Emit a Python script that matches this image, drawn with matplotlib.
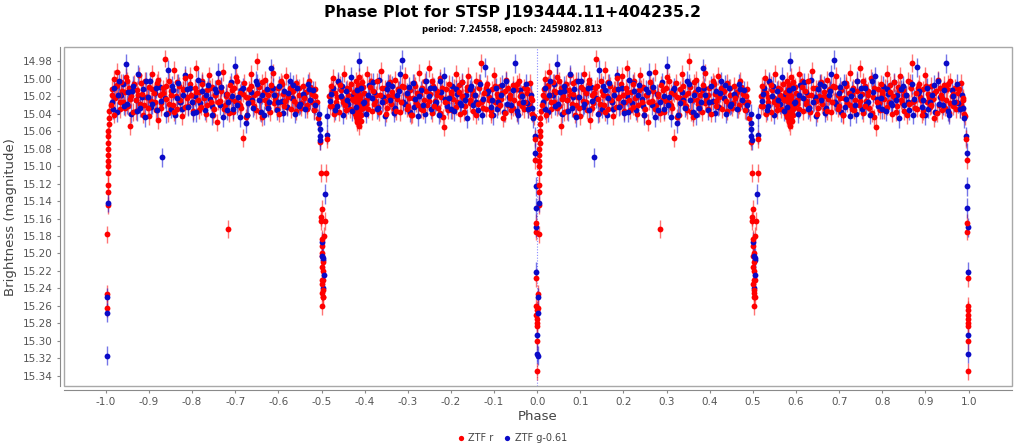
import matplotlib
matplotlib.use('Agg')
import matplotlib.pyplot as plt
from matplotlib.lines import Line2D
from matplotlib.patches import Rectangle
from matplotlib.ticker import MultipleLocator, FormatStrFormatter
import numpy as np

plt.rcParams['font.family'] = 'DejaVu Sans'
plt.rcParams['axes.unicode_minus'] = False

# ZTF r : fase (0..1) e magnitude
r_phase = [
    # egresso do eclipse primário
    0.002, 0.002, 0.003, 0.004, 0.004, 0.004, 0.005, 0.005, 0.005, 0.005,
    0.005, 0.006, 0.006, 0.006, 0.007, 0.007, 0.008,
    # fora do eclipse 0.0 - 0.5
    0.012, 0.015, 0.018, 0.021, 0.024, 0.027, 0.030, 0.033, 0.036, 0.040,
    0.044, 0.047, 0.051, 0.054, 0.056, 0.059, 0.063, 0.066, 0.070, 0.073,
    0.077, 0.080, 0.084, 0.087, 0.091, 0.094, 0.098, 0.101, 0.105, 0.108,
    0.112, 0.116, 0.119, 0.122, 0.126, 0.129, 0.133, 0.137, 0.140, 0.144,
    0.147, 0.151, 0.155, 0.158, 0.162, 0.165, 0.169, 0.173, 0.176, 0.180,
    0.184, 0.187, 0.191, 0.195, 0.198, 0.202, 0.206, 0.209, 0.213, 0.217,
    0.221, 0.224, 0.228, 0.232, 0.235, 0.239, 0.243, 0.246, 0.250, 0.254,
    0.257, 0.261, 0.265, 0.268, 0.272, 0.276, 0.280, 0.284, 0.287, 0.291,
    0.295, 0.298, 0.302, 0.306, 0.310, 0.313, 0.317, 0.321, 0.324, 0.328,
    0.332, 0.336, 0.339, 0.343, 0.347, 0.351, 0.354, 0.358, 0.362, 0.366,
    0.369, 0.373, 0.377, 0.381, 0.384, 0.388, 0.392, 0.396, 0.399, 0.403,
    0.407, 0.411, 0.414, 0.418, 0.422, 0.426, 0.429, 0.433, 0.437, 0.441,
    0.444, 0.448, 0.452, 0.456, 0.459, 0.463, 0.467, 0.471, 0.474, 0.478,
    0.482, 0.486, 0.489,
    0.014, 0.020, 0.026, 0.032, 0.038, 0.045, 0.050, 0.057, 0.064, 0.069,
    0.075, 0.082, 0.089, 0.095, 0.100, 0.107, 0.114, 0.120, 0.127, 0.132,
    0.139, 0.146, 0.152, 0.157, 0.164, 0.171, 0.178, 0.183, 0.189, 0.196,
    0.203, 0.208, 0.215, 0.222, 0.227, 0.234, 0.241, 0.248, 0.253, 0.259,
    0.266, 0.273, 0.279, 0.285, 0.292, 0.299, 0.305, 0.311, 0.318, 0.325,
    0.331, 0.337, 0.344, 0.350, 0.357, 0.363, 0.370, 0.376, 0.383, 0.389,
    0.395, 0.402, 0.409, 0.415, 0.421, 0.428, 0.434, 0.440, 0.447, 0.453,
    0.460, 0.466, 0.473, 0.479, 0.485,
    # eclipse secundário
    0.492, 0.496, 0.498, 0.499, 0.499, 0.500, 0.500, 0.500, 0.501, 0.501,
    0.501, 0.502, 0.502, 0.502, 0.502, 0.503, 0.503, 0.503, 0.503, 0.504,
    0.504, 0.506, 0.507, 0.511, 0.513,
    # fora do eclipse 0.5 - 1.0
    0.518, 0.521, 0.524, 0.527, 0.531, 0.534, 0.538, 0.541, 0.545, 0.548,
    0.552, 0.555, 0.559, 0.562, 0.566, 0.569, 0.572, 0.576, 0.578, 0.579,
    0.580, 0.581, 0.582, 0.583, 0.584, 0.584, 0.585, 0.586, 0.586, 0.587,
    0.588, 0.588, 0.589, 0.590, 0.591, 0.592, 0.593, 0.594, 0.596, 0.599,
    0.603, 0.606, 0.610, 0.613, 0.617, 0.620, 0.624, 0.628, 0.631, 0.635,
    0.638, 0.642, 0.646, 0.649, 0.653, 0.656, 0.660, 0.664, 0.667, 0.671,
    0.675, 0.678, 0.682, 0.686, 0.689, 0.693, 0.697, 0.700, 0.704, 0.708,
    0.711, 0.715, 0.719, 0.722, 0.726, 0.730, 0.733, 0.737, 0.741, 0.745,
    0.748, 0.752, 0.756, 0.759, 0.763, 0.767, 0.770, 0.774, 0.778, 0.781,
    0.785, 0.789, 0.792, 0.796, 0.800, 0.803, 0.807, 0.811, 0.815, 0.818,
    0.822, 0.826, 0.829, 0.833, 0.837, 0.840, 0.844, 0.848, 0.851, 0.855,
    0.859, 0.862, 0.866, 0.870, 0.873, 0.877, 0.881, 0.884, 0.888, 0.892,
    0.895, 0.899, 0.903, 0.906, 0.910, 0.914, 0.917, 0.921, 0.925, 0.928,
    0.932, 0.936, 0.939, 0.943, 0.947, 0.950, 0.954, 0.958, 0.961, 0.965,
    0.969, 0.972, 0.976, 0.979, 0.983, 0.986, 0.989,
    0.519, 0.525, 0.530, 0.536, 0.543, 0.550, 0.557, 0.564, 0.570, 0.577,
    0.581, 0.583, 0.585, 0.587, 0.589, 0.591, 0.597, 0.602, 0.608, 0.615,
    0.622, 0.627, 0.633, 0.640, 0.647, 0.652, 0.658, 0.665, 0.672, 0.677,
    0.684, 0.691, 0.698, 0.703, 0.710, 0.717, 0.724, 0.729, 0.735, 0.742,
    0.749, 0.755, 0.761, 0.768, 0.775, 0.780, 0.787, 0.794, 0.799, 0.805,
    0.812, 0.819, 0.825, 0.831, 0.838, 0.845, 0.850, 0.857, 0.864, 0.869,
    0.875, 0.882, 0.889, 0.894, 0.901, 0.908, 0.913, 0.919, 0.926, 0.933,
    0.938, 0.945, 0.952, 0.957, 0.963, 0.970, 0.977, 0.982, 0.987,
    # ingresso do eclipse primário
    0.992, 0.995, 0.996, 0.997, 0.997, 0.998, 0.998, 0.998, 0.999, 0.999,
    0.999, 0.999, 0.999, 0.999,
]
r_mag = [
    15.246, 15.263, 15.178, 15.145, 15.130, 15.122, 15.108, 15.100, 15.094, 15.087,
    15.080, 15.074, 15.066, 15.060, 15.052, 15.045, 15.037,

    15.030, 15.012, 15.000, 15.022, 15.008, 14.992, 15.018, 15.035, 15.004, 15.026,
    15.015, 14.998, 15.031, 15.010, 15.054, 15.020, 15.038, 15.006, 15.024, 15.013,
    14.996, 15.029, 15.017, 15.041, 15.002, 15.021, 15.033, 15.009, 15.025, 14.994,
    15.016, 15.036, 15.005, 15.047, 15.019, 15.028, 15.011, 14.977, 15.023, 15.039,
    15.003, 15.014, 15.030, 14.990, 15.020, 15.034, 15.008, 15.026, 15.043, 15.012,
    14.999, 15.022, 15.031, 15.006, 15.018, 15.037, 15.010, 14.988, 15.024, 15.015,
    15.032, 15.002, 15.021, 15.040, 15.013, 14.996, 15.027, 15.009, 15.035, 15.019,
    15.050, 15.004, 15.025, 15.014, 14.992, 15.030, 15.017, 15.172, 15.007, 15.023,
    15.038, 15.011, 14.998, 15.028, 15.016, 15.033, 15.068, 15.005, 15.021, 15.041,
    15.012, 14.994, 15.026, 15.018, 15.036, 14.980, 15.009, 15.024, 15.044, 15.015,
    15.001, 15.029, 15.019, 15.038, 15.007, 14.993, 15.023, 15.034, 15.011, 15.026,
    15.003, 15.017, 15.031, 14.997, 15.021, 15.010, 15.035, 15.014, 15.025, 15.005,
    15.029, 15.019, 15.033, 15.008, 15.022, 15.015, 15.030, 15.002, 15.024, 15.017,
    15.036, 15.012, 15.027,
    15.019, 15.041, 15.007, 15.027, 15.014, 15.033, 15.002, 15.023, 15.011, 15.037,
    15.018, 15.005, 15.030, 15.021, 15.043, 15.012, 15.026, 15.001, 15.033, 15.016,
    15.008, 15.029, 15.019, 15.038, 15.004, 15.024, 15.013, 15.032, 15.021, 14.997,
    15.027, 15.015, 15.036, 15.006, 15.022, 15.030, 15.011, 15.041, 15.018, 15.026,
    15.009, 15.034, 15.020, 15.039, 15.013, 15.025, 15.003, 15.030, 15.017, 15.044,
    15.022, 15.008, 15.031, 15.016, 15.038, 15.004, 15.024, 15.033, 15.013, 15.028,
    15.019, 15.040, 15.006, 15.025, 15.032, 15.015, 15.022, 15.037, 15.010, 15.028,
    15.018, 15.035, 15.009, 15.026, 15.020,

    15.045, 15.072, 15.108, 15.158, 15.163, 15.149, 15.183, 15.192, 15.203, 15.215,
    15.235, 15.230, 15.245, 15.260, 15.200, 15.220, 15.242, 15.250, 15.210, 15.230,
    15.250, 15.180, 15.163, 15.108, 15.069,

    15.020, 15.008, 15.031, 14.999, 15.016, 15.026, 15.004, 15.038, 15.013, 15.022,
    14.994, 15.030, 15.011, 15.019, 15.035, 15.006, 15.024, 15.015, 15.034, 15.002,
    15.044, 15.021, 15.012, 15.050, 15.028, 15.007, 15.039, 15.018, 15.054, 15.031,
    14.998, 15.046, 15.024, 15.036, 15.010, 15.042, 15.027, 15.004, 15.033, 15.016,
    15.029, 14.995, 15.021, 15.009, 15.037, 15.014, 15.025, 15.003, 15.032, 15.018,
    14.991, 15.027, 15.011, 15.040, 15.020, 15.006, 15.029, 15.015, 15.034, 15.001,
    15.023, 15.012, 15.038, 15.008, 15.026, 14.997, 15.019, 15.031, 15.013, 15.042,
    15.022, 15.005, 15.028, 15.016, 14.993, 15.035, 15.010, 15.024, 15.003, 15.030,
    14.988, 15.017, 15.039, 15.008, 15.025, 15.014, 15.033, 14.999, 15.021, 15.044,
    15.055, 15.012, 15.028, 15.006, 15.019, 15.036, 15.010, 14.994, 15.026, 15.015,
    15.040, 15.004, 15.022, 15.031, 15.009, 14.997, 15.024, 15.013, 15.037, 15.018,
    15.002, 15.029, 15.011, 14.982, 15.025, 15.016, 15.034, 15.006, 15.021, 15.041,
    15.012, 14.996, 15.027, 15.017, 15.032, 15.008, 15.023, 15.045, 15.014, 15.001,
    15.030, 15.019, 15.036, 15.007, 15.024, 15.012, 15.039, 15.003, 15.020, 15.031,
    15.010, 15.026, 15.016, 15.035, 15.005, 15.022, 15.040,
    15.031, 15.014, 15.040, 15.021, 15.007, 15.027, 15.036, 15.012, 15.023, 15.040,
    15.026, 15.047, 15.013, 15.041, 15.020, 15.048, 15.009, 15.024, 15.035, 15.003,
    15.029, 15.018, 15.038, 15.010, 15.025, 15.033, 15.004, 15.020, 15.037, 15.013,
    15.027, 15.009, 15.034, 15.022, 15.041, 15.008, 15.030, 15.017, 15.036, 15.014,
    15.025, 15.003, 15.031, 15.019, 15.039, 15.010, 15.027, 15.036, 15.015, 15.023,
    15.032, 15.007, 15.020, 15.038, 15.013, 15.028, 15.018, 15.042, 15.004, 15.026,
    15.033, 15.011, 15.024, 15.037, 15.008, 15.021, 15.030, 15.016, 15.039, 15.010,
    15.022, 15.033, 15.006, 15.028, 15.017, 15.035, 15.012, 15.030, 15.024,

    15.043, 15.069, 15.093, 15.165, 15.175, 15.228, 15.260, 15.270, 15.265, 15.275,
    15.280, 15.283, 15.300, 15.335,
]
r_err = 0.010

# ZTF g (deslocado de -0.61 mag)
g_phase = [
    0.002, 0.002, 0.002, 0.004,
    0.014, 0.019, 0.025, 0.030, 0.036, 0.041, 0.046, 0.052, 0.058, 0.063,
    0.069, 0.075, 0.080, 0.086, 0.091, 0.097, 0.102, 0.108, 0.114, 0.119,
    0.125, 0.131, 0.136, 0.144, 0.150, 0.156, 0.161, 0.167, 0.173, 0.178,
    0.184, 0.190, 0.196, 0.201, 0.207, 0.213, 0.219, 0.224, 0.230, 0.236,
    0.242, 0.247, 0.253, 0.259, 0.265, 0.272, 0.278, 0.284, 0.290, 0.295,
    0.300, 0.306, 0.311, 0.317, 0.324, 0.330, 0.336, 0.342, 0.348, 0.354,
    0.360, 0.367, 0.373, 0.379, 0.384, 0.390, 0.396, 0.402, 0.408, 0.414,
    0.420, 0.426, 0.432, 0.438, 0.444, 0.450, 0.456, 0.462, 0.468, 0.474,
    0.480, 0.486,
    0.017, 0.028, 0.039, 0.049, 0.061, 0.072, 0.083, 0.094, 0.105, 0.117,
    0.128, 0.140, 0.153, 0.164, 0.176, 0.187, 0.199, 0.210, 0.222, 0.233,
    0.245, 0.256, 0.268, 0.281, 0.293, 0.303, 0.314, 0.327, 0.339, 0.351,
    0.363, 0.376, 0.387, 0.399, 0.411, 0.423, 0.435, 0.447, 0.459, 0.471,
    0.483,
    0.495, 0.495, 0.496, 0.496, 0.497, 0.501, 0.502, 0.503, 0.504, 0.504,
    0.505, 0.509, 0.512, 0.513,
    0.520, 0.526, 0.532, 0.538, 0.544, 0.550, 0.556, 0.562, 0.568, 0.574,
    0.580, 0.586, 0.592, 0.598, 0.604, 0.610, 0.616, 0.622, 0.628, 0.634,
    0.640, 0.646, 0.652, 0.658, 0.664, 0.670, 0.676, 0.682, 0.687, 0.693,
    0.699, 0.705, 0.711, 0.717, 0.724, 0.730, 0.736, 0.742, 0.748, 0.754,
    0.760, 0.766, 0.772, 0.778, 0.784, 0.790, 0.796, 0.802, 0.808, 0.814,
    0.820, 0.826, 0.832, 0.838, 0.844, 0.850, 0.856, 0.862, 0.868, 0.874,
    0.880, 0.886, 0.892, 0.898, 0.904, 0.910, 0.916, 0.922, 0.928, 0.934,
    0.940, 0.948, 0.955, 0.961, 0.967, 0.973, 0.979, 0.985, 0.990,
    0.523, 0.535, 0.547, 0.559, 0.571, 0.583, 0.595, 0.607, 0.619, 0.631,
    0.643, 0.655, 0.667, 0.679, 0.690, 0.702, 0.714, 0.727, 0.739, 0.751,
    0.763, 0.775, 0.787, 0.799, 0.811, 0.823, 0.835, 0.847, 0.859, 0.871,
    0.883, 0.895, 0.907, 0.919, 0.931, 0.943, 0.952, 0.964, 0.976, 0.987,
    0.995, 0.996, 0.997, 0.997, 0.998, 0.998, 0.999, 0.999,
]
g_mag = [
    15.250, 15.268, 15.317, 15.142,
    15.026, 15.010, 15.038, 15.002, 15.019, 15.031, 14.983, 15.015, 15.040, 15.008,
    15.024, 14.995, 15.033, 15.012, 15.044, 15.021, 15.003, 15.029, 15.016, 15.036,
    15.009, 15.090, 15.022, 14.990, 15.034, 15.013, 15.041, 15.005, 15.027, 15.018,
    14.996, 15.032, 15.011, 15.039, 15.020, 15.001, 15.028, 15.014, 15.036, 15.007,
    15.023, 15.042, 15.012, 14.993, 15.030, 15.044, 15.017, 15.026, 15.004, 15.035,
    14.985, 15.021, 15.044, 15.010, 15.051, 15.028, 15.015, 15.033, 15.002, 15.024,
    15.038, 15.042, 15.012, 15.027, 14.988, 15.019, 15.036, 15.008, 15.025, 15.014,
    15.032, 15.003, 15.022, 15.040, 15.011, 15.029, 15.017, 15.034, 15.006, 15.024,
    15.013, 15.030,
    15.035, 15.018, 15.006, 15.029, 15.014, 15.037, 15.021, 15.003, 15.032, 15.011,
    15.025, 15.040, 15.008, 15.022, 15.034, 15.012, 15.027, 15.038, 15.005, 15.019,
    15.031, 15.015, 15.009, 15.036, 15.020, 15.030, 15.013, 15.041, 15.024, 15.006,
    15.018, 15.033, 15.010, 15.026, 15.039, 15.016, 15.007, 15.031, 15.021, 15.012,
    15.036,
    15.040, 15.051, 15.058, 15.066, 15.070, 15.187, 15.203, 15.240, 15.205, 15.208,
    15.225, 15.132, 15.043, 15.064,
    15.025, 15.010, 15.036, 15.003, 15.020, 15.041, 15.014, 15.029, 14.998, 15.018,
    15.032, 14.980, 15.011, 15.026, 15.040, 15.007, 15.022, 15.015, 15.035, 15.001,
    15.027, 15.043, 15.012, 15.024, 15.008, 15.033, 15.019, 14.995, 14.978, 15.029,
    15.016, 15.038, 15.005, 15.023, 15.043, 15.013, 15.030, 15.002, 15.020, 15.035,
    15.010, 15.026, 15.041, 15.015, 14.997, 15.031, 15.022, 15.008, 15.037, 15.017,
    15.028, 15.004, 15.024, 15.045, 15.012, 15.030, 15.019, 15.036, 15.006, 15.023,
    14.987, 15.014, 15.032, 15.042, 15.010, 15.026, 15.018, 15.038, 15.003, 15.021,
    15.030, 14.982, 15.041, 15.013, 15.027, 15.006, 15.034, 15.018, 15.045,
    15.017, 15.031, 15.008, 15.024, 15.037, 15.013, 15.028, 15.019, 15.004, 15.033,
    15.021, 15.006, 15.039, 15.014, 15.026, 15.009, 15.032, 15.020, 15.040, 15.011,
    15.029, 15.003, 15.023, 15.035, 15.012, 15.030, 15.018, 15.008, 15.027, 15.041,
    15.016, 15.024, 15.034, 15.007, 15.029, 15.013, 15.037, 15.020, 15.028, 15.033,
    15.066, 15.085, 15.123, 15.148, 15.170, 15.221, 15.293, 15.315,
]
g_err = 0.011

titulo = 'Phase Plot for STSP J193444.11+404235.2'
subtitulo = 'period: 7.24558, epoch: 2459802.813'
nomes = ['ZTF r', 'ZTF g-0.61']
x_ticks = [-1.0, -0.9, -0.8, -0.7, -0.6, -0.5, -0.4, -0.3, -0.2, -0.1, 0.0,
           0.1, 0.2, 0.3, 0.4, 0.5, 0.6, 0.7, 0.8, 0.9, 1.0]

fig = plt.figure(figsize=(10.24, 4.48), dpi=100)
ax = fig.add_axes([0.0625, 0.138, 0.9255, 0.757])

# linha pontilhada em fase 0
ax.axvline(0, color='#8c8cff', ls=(0, (1, 1.5)), lw=0.8, zorder=0.5)

cor_r, ecor_r = '#ff0000', (1.0, 0.1, 0.1, 0.6)
cor_g, ecor_g = '#0a0ac8', (0.1, 0.1, 0.85, 0.6)
rp, rm = np.array(r_phase), np.array(r_mag)
gp, gm = np.array(g_phase), np.array(g_mag)

# desenhar intercalado (r e g alternando) para os pontos se misturarem;
# cada ponto aparece em fase e em fase-1
for parte in (slice(0, None, 2), slice(1, None, 2)):
    for fase, mag, err, cor, ecor in [(rp[parte], rm[parte], r_err, cor_r, ecor_r),
                                      (gp[parte], gm[parte], g_err, cor_g, ecor_g)]:
        for desloc in (-1, 0):
            ax.errorbar(fase + desloc, mag, yerr=err, fmt='o', ms=4.2,
                        mfc=cor, mec=cor, mew=0, ecolor=ecor, elinewidth=1.0,
                        capsize=2.8, capthick=1.0)

ax.set_xlim(-1.097, 1.1)
ax.set_ylim(15.352, 14.9636)
ax.set_xticks(x_ticks)
ax.xaxis.set_major_formatter(FormatStrFormatter('%.1f'))
ax.yaxis.set_major_locator(MultipleLocator(0.02))
ax.yaxis.set_major_formatter(FormatStrFormatter('%.2f'))

# estilo JFreeChart: eixos afastados da área do gráfico
for s in ['top', 'right']:
    ax.spines[s].set_visible(False)
for s in ['left', 'bottom']:
    ax.spines[s].set_position(('outward', 3))
    ax.spines[s].set_color('#8a8a8a')
ax.add_patch(Rectangle((0, 0), 1, 1, transform=ax.transAxes, fill=False,
                       ec='#a8a8a8', lw=1.0, clip_on=False, zorder=10))
ax.tick_params(direction='out', length=2, width=0.8, color='#8a8a8a',
               labelcolor='#555555', labelsize=7.5, pad=3)

ax.set_xlabel('Phase', fontsize=9.5, color='#444444', labelpad=2)
ax.set_ylabel('Brightness (magnitude)', fontsize=9.5, color='#444444', labelpad=4)

fig.text(0.5, 1 - 13 / 448, titulo, ha='center', va='center',
         fontsize=11.3, fontweight='bold')
fig.text(0.5, 1 - 30 / 448, subtitulo, ha='center', va='center',
         fontsize=6.1, fontweight='bold')

handles = [Line2D([], [], ls='none', marker='o', ms=3.8, mew=0, color=c)
           for c in [cor_r, cor_g]]
fig.legend(handles, nomes, loc='center', bbox_to_anchor=(0.5, 1 - 438 / 448),
           ncol=2, frameon=False, fontsize=7, handlelength=0.8,
           handletextpad=0.4, columnspacing=1.0, labelcolor='#444444')

fig.savefig('out.png', dpi=100)
